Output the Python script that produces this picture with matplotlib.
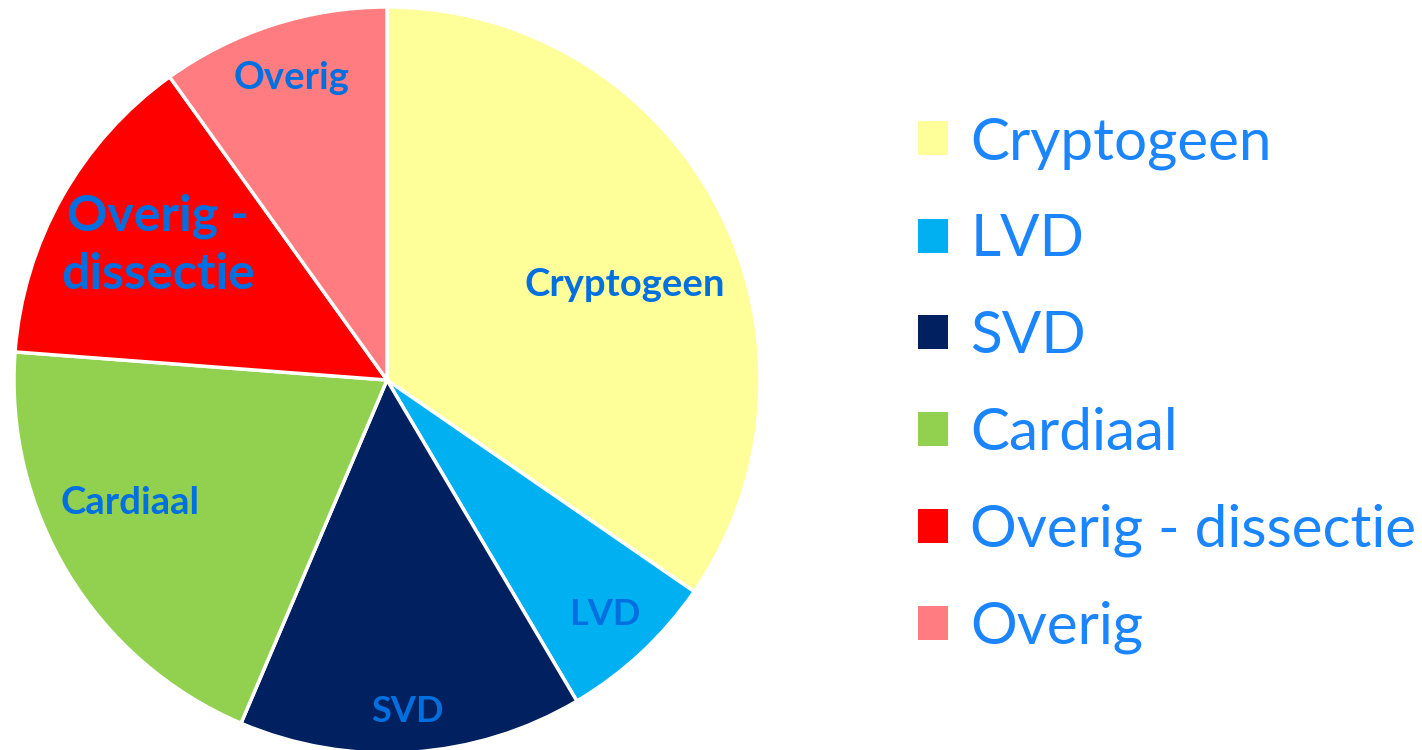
import matplotlib
matplotlib.use("Agg")
import matplotlib.pyplot as plt
from matplotlib.patches import Patch

categories = ["Cryptogeen", "LVD", "SVD", "Cardiaal", "Overig - dissectie", "Overig"]
values = [34.6, 6.9, 14.9, 19.8, 13.9, 9.9]
inner_labels = ["Cryptogeen", "LVD", "SVD", "Cardiaal", "Overig -\ndissectie", "Overig"]

colors = ["#FFFF99", "#00B0F0", "#002060", "#92D050", "#FF0000", "#FF7C80"]
label_pos = [(0.638, 0.255), (0.584, -0.630), (0.054, -0.890), (-0.689, -0.330), (-0.614, 0.362), (-0.257, 0.810)]
label_size = [27.5, 26, 26, 27.5, 36, 27.5]

plt.rcParams['font.family'] = ['Lato', 'DejaVu Sans']
fig = plt.figure(figsize=(14.22, 7.5), dpi=100)
cx, cy, r = 387, 380, 373
ax = fig.add_axes([(cx - r) / 1422, (750 - cy - r) / 750, 2 * r / 1422, 2 * r / 750])
wedges, _ = ax.pie(values, colors=colors, startangle=90, counterclock=False,
                   radius=1, wedgeprops=dict(edgecolor="white", linewidth=2.5))
ax.set_xlim(-1, 1)
ax.set_ylim(-1, 1)
ax.set_aspect("equal")
ax.axis("off")

for lab, (x, y), fs in zip(inner_labels, label_pos, label_size):
    ax.text(x, y, lab, ha="center", va="center", fontsize=fs, fontweight="bold",
            color="#0070E0", linespacing=1.35)

handles = [Patch(facecolor=c, edgecolor="none") for c in colors]
leg = fig.legend(handles, categories, loc="upper left", bbox_to_anchor=(918 / 1422, 1 - 116 / 750),
                 frameon=False, fontsize=42, labelspacing=0.75, handlelength=0.52, handleheight=0.52,
                 handletextpad=0.38, labelcolor="#1A85FF", borderpad=0, borderaxespad=0)

fig.savefig("out.png", dpi=100)
